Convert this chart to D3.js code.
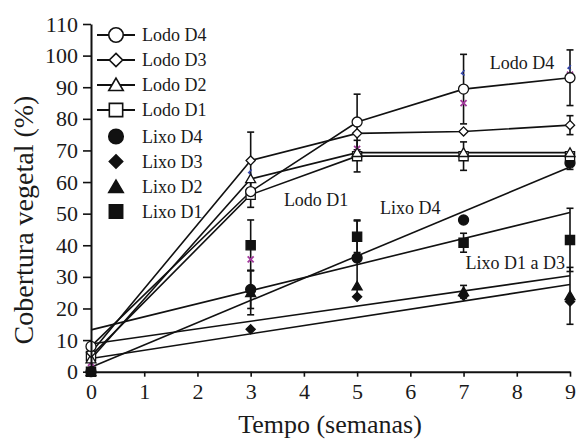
<!DOCTYPE html>
<html><head><meta charset="utf-8">
<script src="https://cdn.jsdelivr.net/npm/d3@7"></script>
<style>
body{margin:0;background:#fff}
svg text{font-family:'Liberation Serif','Times New Roman',Times,serif;fill:#1a1a1a}
</style>
</head><body>
<svg id="c" width="579" height="439"></svg>
<script>
// ---- data ----
const weeks = [0, 3, 5, 7, 9];
const xTicks = [0,1,2,3,4,5,6,7,8,9];
const yTicks = [0,10,20,30,40,50,60,70,80,90,100,110];

const lodoD4 = [8, 57, 79, 89.4, 93];
const lodoD3 = [6, 66.8, 75.4, 76, 78];
const lodoD2 = [4, 61, 69.3, 69.3, 69.3];
const lodoD1 = [5, 56, 68.2, 68.2, 68.2];
const lixoD4 = [0, 26, 36, 48, 66];
const lixoD3 = [0, 13.4, 23.7, 24, 22.2];
const lixoD2 = [0, 25, 27.1, 25.3, 24];
const lixoD1 = [0, 40, 42.7, 40.8, 41.7];

const lodoD4Err = [0, 0, 8.8, 11, 8.8];
const lodoD3Err = [0, 9, 0, 0, 3];
const lodoD2Err = [0, 0, 0, 0, 0];
const lodoD1Err = [0, 4, 5, 4.5, 0];
const lixoD4Err = [0, 6, 12, 0, 2];
const lixoD3Err = [0, 0, 0, 0, 0];
const lixoD2Err = [0, 7, 0, 2, 9];
const lixoD1Err = [0, 8, 5, 3, 10];

const stray = [2.8, 35.5, 70.5, 85, 94];
const strayBlueWeeks = [3, 7, 9];
const strayBlue = [63, 94.4, 96];

const names = ["Lodo D4","Lodo D3","Lodo D2","Lodo D1","Lixo D4","Lixo D3","Lixo D2","Lixo D1"];
const labels = [
  {t:"Lodo D4", w:8.1, v:97.7},
  {t:"Lodo D1", w:4.23, v:54.3},
  {t:"Lixo D4", w:6.0, v:51.8},
  {t:"Lixo D1 a D3", w:7.97, v:34.4}
];

// ---- build ----
const FONT = "'Liberation Serif','Times New Roman',Times,serif";
const series = [
  {name:names[0], vals:lodoD4, err:lodoD4Err, shape:"circle",  filled:false, line:true},
  {name:names[1], vals:lodoD3, err:lodoD3Err, shape:"diamond", filled:false, line:true},
  {name:names[2], vals:lodoD2, err:lodoD2Err, shape:"triangle",filled:false, line:true},
  {name:names[3], vals:lodoD1, err:lodoD1Err, shape:"square",  filled:false, line:true},
  {name:names[4], vals:lixoD4, err:lixoD4Err, shape:"circle",  filled:true, line:false},
  {name:names[5], vals:lixoD3, err:lixoD3Err, shape:"diamond", filled:true, line:false},
  {name:names[6], vals:lixoD2, err:lixoD2Err, shape:"triangle",filled:true, line:false},
  {name:names[7], vals:lixoD1, err:lixoD1Err, shape:"square",  filled:true, line:false}
];

const svg = d3.select("#c").attr("font-family",FONT);
const x = d3.scaleLinear().domain([0,9]).range([91,570]);
const y = d3.scaleLinear().domain([0,110]).range([371.7,24]);

function shapePath(shape, s){
  if(shape==="circle"){ const r=5*s; return `M${-r},0A${r},${r} 0 1,0 ${r},0A${r},${r} 0 1,0 ${-r},0Z`; }
  if(shape==="square"){ const h=4.6*s; return `M${-h},${-h}H${h}V${h}H${-h}Z`; }
  if(shape==="diamond"){ const w=4.6*s,h=4.6*s; return `M0,${-h}L${w},0L0,${h}L${-w},0Z`; }
  if(shape==="triangle"){ const w=5*s,h=4.8*s; return `M0,${-h}L${w},${h*0.8}L${-w},${h*0.8}Z`; }
}

const g = svg.append("g");

// trend lines for Lixo series (least squares, as in the source spreadsheet)
series.filter(s=>!s.line).forEach(s=>{
  const mx=d3.mean(weeks), my=d3.mean(s.vals);
  let sxy=0,sxx=0;
  weeks.forEach((w,i)=>{sxy+=(w-mx)*(s.vals[i]-my);sxx+=(w-mx)*(w-mx);});
  const b=sxy/sxx, a=my-b*mx;
  g.append("line").attr("x1",x(0)).attr("y1",y(a)).attr("x2",x(9)).attr("y2",y(a+b*9))
    .attr("stroke","#111").attr("stroke-width",1.6);
});

// connecting lines for Lodo series
const lineGen = d3.line().x((d,i)=>x(weeks[i])).y(d=>y(d));
series.filter(s=>s.line).forEach(s=>{
  g.append("path").attr("d",lineGen(s.vals)).attr("fill","none")
    .attr("stroke","#111").attr("stroke-width",1.6);
});

// error bars
series.forEach(s=>{
  s.vals.forEach((v,i)=>{
    const e=s.err[i]; if(!e) return;
    const cx=x(weeks[i]);
    g.append("line").attr("x1",cx).attr("x2",cx).attr("y1",y(v-e)).attr("y2",y(v+e))
      .attr("stroke","#111").attr("stroke-width",1.6);
    [v-e,v+e].forEach(t=>g.append("line").attr("x1",cx-3.5).attr("x2",cx+3.5)
      .attr("y1",y(t)).attr("y2",y(t)).attr("stroke","#111").attr("stroke-width",1.6));
  });
});

// stray marks
stray.forEach((v,i)=>{
  const cx=x(weeks[i]), cy=y(v);
  g.append("path").attr("d",`M${cx-3},${cy-3}L${cx+3},${cy+3}M${cx+3},${cy-3}L${cx-3},${cy+3}`)
    .attr("stroke","#a23a9c").attr("stroke-width",1.8);
});
strayBlue.forEach((v,i)=>{
  const cx=x(strayBlueWeeks[i]), cy=y(v);
  g.append("path").attr("d",`M${cx+1},${cy-3}L${cx-2},${cy}L${cx+1},${cy+2}`)
    .attr("fill","none").attr("stroke","#3344aa").attr("stroke-width",1.4);
});

// markers
series.slice().reverse().forEach(s=>{
  s.vals.forEach((v,i)=>{
    g.append("path").attr("d",shapePath(s.shape,1))
      .attr("transform",`translate(${x(weeks[i])},${y(v)})`)
      .attr("fill",s.filled?"#111":"#fff").attr("stroke","#111").attr("stroke-width",1.3);
  });
});

// axes
const ya = svg.append("g").attr("transform",`translate(${x(0)},0)`)
  .call(d3.axisLeft(y).tickValues(yTicks).tickSize(8).tickSizeOuter(0).tickPadding(5));
const xa = svg.append("g").attr("transform",`translate(0,${y(0)})`)
  .call(d3.axisBottom(x).tickValues(xTicks).tickSize(5).tickSizeOuter(0).tickPadding(7));
[ya,xa].forEach(a=>{
  a.attr("font-family",FONT).attr("font-size",22);
  a.selectAll("path").attr("stroke","#111").attr("stroke-width",2);
  a.selectAll("line").attr("stroke","#111").attr("stroke-width",1.6);
  a.selectAll("text").attr("fill","#1a1a1a");
});

// axis titles
svg.append("text").attr("transform","translate(33,220) rotate(-90)")
  .attr("text-anchor","middle").attr("font-size",28).text("Cobertura vegetal (%)");
svg.append("text").attr("x",330).attr("y",433).attr("text-anchor","middle")
  .attr("font-size",26).text("Tempo (semanas)");

// legend
const legY = [35,60,85,110,136.5,161.5,187,211.5];
series.forEach((s,i)=>{
  const lg = svg.append("g").attr("transform",`translate(0,${legY[i]})`);
  if(s.line) lg.append("line").attr("x1",97).attr("x2",135).attr("stroke","#111").attr("stroke-width",1.8);
  lg.append("path").attr("d",shapePath(s.shape,1.45)).attr("transform","translate(116,0)")
    .attr("fill",s.filled?"#111":"#fff").attr("stroke","#111").attr("stroke-width",1.6);
  lg.append("text").attr("x",142).attr("dy","0.35em").attr("font-size",18).text(s.name);
});

// in-plot labels
labels.forEach(l=>{
  svg.append("text").attr("x",x(l.w)).attr("y",y(l.v)).attr("dy","0.35em")
    .attr("text-anchor","middle").attr("font-size",18).text(l.t);
});
</script>
</body></html>
